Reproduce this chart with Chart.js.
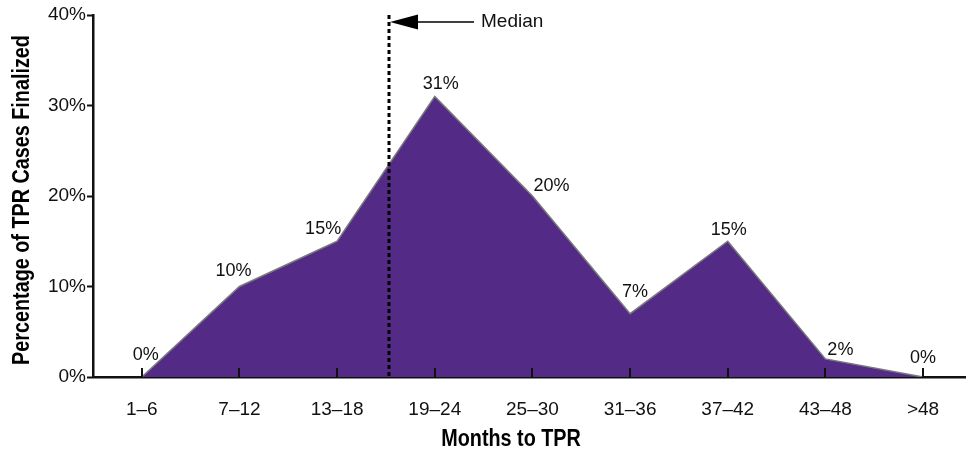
<!DOCTYPE html>
<html>
<head>
<meta charset="utf-8">
<script src="https://cdn.jsdelivr.net/npm/chart.js@4/dist/chart.umd.min.js"></script>
<style>
html,body{margin:0;padding:0;background:#fff;}
#wrap{width:966px;height:453px;position:relative;}
</style>
</head>
<body>
<div id="wrap"><canvas id="c" width="966" height="453"></canvas></div>
<script>
// ---- data ----
const categories = ['1\u20136','7\u201312','13\u201318','19\u201324','25\u201330','31\u201336','37\u201342','43\u201348','>48'];
const pctValues = [0, 10, 15, 31, 20, 7, 15, 2, 0];
const yTickValues = [0, 10, 20, 30, 40];
const medianPosition = 2.53; // position along the category axis (index units)
const medianText = 'Median';
const xTitle = 'Months to TPR';
const yTitle = 'Percentage of TPR Cases Finalized';

// ---- styling ----
const FONT = '"Liberation Sans", Arial, Helvetica, sans-serif';
const labelOffsets = [[4,-22],[-6,-15],[-14,-12],[6,-12],[19,-10],[5,-22],[1,-11],[15,-9],[0,-19]];
const TITLE_SQUEEZE = 0.86;

const overlayPlugin = {
  id: 'overlay',
  afterDatasetsDraw(chart) {
    const ctx = chart.ctx;
    const xs = chart.scales.x, ys = chart.scales.y;
    const area = chart.chartArea;
    ctx.save();
    // inward x ticks
    ctx.strokeStyle = '#111';
    ctx.lineWidth = 2;
    categories.forEach((c, i) => {
      const px = Math.round(xs.getPixelForValue(i));
      ctx.beginPath();
      ctx.moveTo(px, area.bottom);
      ctx.lineTo(px, area.bottom - 9);
      ctx.stroke();
    });
    // data labels
    ctx.fillStyle = '#111';
    ctx.font = '18px ' + FONT;
    ctx.textAlign = 'center';
    ctx.textBaseline = 'middle';
    pctValues.forEach((v, i) => {
      const px = xs.getPixelForValue(i), py = ys.getPixelForValue(v);
      const o = labelOffsets[i];
      ctx.fillText(v + '%', px + o[0], py + o[1]);
    });
    // median line
    const mx = Math.round(xs.getPixelForValue(medianPosition));
    ctx.strokeStyle = '#000';
    ctx.lineWidth = 3;
    ctx.setLineDash([4, 3]);
    ctx.beginPath();
    ctx.moveTo(mx, area.top);
    ctx.lineTo(mx, area.bottom);
    ctx.stroke();
    ctx.setLineDash([]);
    // arrow
    const ay = area.top + 7;
    ctx.fillStyle = '#000';
    ctx.beginPath();
    ctx.moveTo(mx + 1, ay);
    ctx.lineTo(mx + 29, ay - 7.5);
    ctx.lineTo(mx + 29, ay + 7.5);
    ctx.closePath();
    ctx.fill();
    ctx.lineWidth = 1.5;
    ctx.beginPath();
    ctx.moveTo(mx + 28, ay);
    ctx.lineTo(mx + 85, ay);
    ctx.stroke();
    ctx.font = '19px ' + FONT;
    ctx.textAlign = 'left';
    ctx.fillStyle = '#111';
    ctx.fillText(medianText, mx + 92, ay);

    // axis titles (condensed bold)
    ctx.fillStyle = '#000';
    ctx.font = 'bold 23px ' + FONT;
    ctx.textAlign = 'center';
    ctx.textBaseline = 'alphabetic';
    ctx.save();
    ctx.translate(chart.width / 2 + 28, 446);
    ctx.scale(TITLE_SQUEEZE, 1);
    ctx.fillText(xTitle, 0, 0);
    ctx.restore();
    ctx.save();
    ctx.translate(29, (area.top + area.bottom) / 2 + 4);
    ctx.rotate(-Math.PI / 2);
    ctx.scale(TITLE_SQUEEZE, 1);
    ctx.fillText(yTitle, 0, 0);
    ctx.restore();
    ctx.restore();
  }
};

new Chart(document.getElementById('c'), {
  type: 'line',
  data: {
    datasets: [{
      data: pctValues.map((v, i) => ({x: i, y: v})),
      fill: 'origin',
      backgroundColor: '#542a87',
      borderColor: '#7a7a7a',
      borderWidth: 1.5,
      pointRadius: 0,
      tension: 0
    }]
  },
  options: {
    responsive: false,
    animation: false,
    layout: {padding: {top: 15, right: 0, bottom: 0, left: 0}},
    plugins: {legend: {display: false}, tooltip: {enabled: false}},
    scales: {
      x: {
        type: 'linear',
        min: -0.5,
        max: 8.44,
        afterBuildTicks: s => { s.ticks = categories.map((c, i) => ({value: i})); },
        afterFit: s => { s.height = 76; },
        grid: {display: false, drawTicks: false},
        border: {display: true, color: '#111', width: 2.5},
        ticks: {
          autoSkip: false,
          maxRotation: 0,
          padding: 21,
          color: '#111',
          font: {size: 19, family: FONT},
          callback: v => categories[v] ?? ''
        },
        title: {display: false}
      },
      y: {
        min: 0,
        max: 40,
        afterBuildTicks: s => { s.ticks = yTickValues.map(v => ({value: v})); },
        afterFit: s => { s.width = 93; },
        grid: {display: true, drawOnChartArea: false, drawTicks: true, tickLength: 6, tickColor: '#111', tickWidth: 2},
        border: {display: true, color: '#111', width: 2.5},
        ticks: {
          padding: 1,
          color: '#111',
          font: {size: 19, family: FONT},
          callback: v => v + '%'
        },
        title: {display: false}
      }
    }
  },
  plugins: [overlayPlugin]
});
</script>
</body>
</html>
